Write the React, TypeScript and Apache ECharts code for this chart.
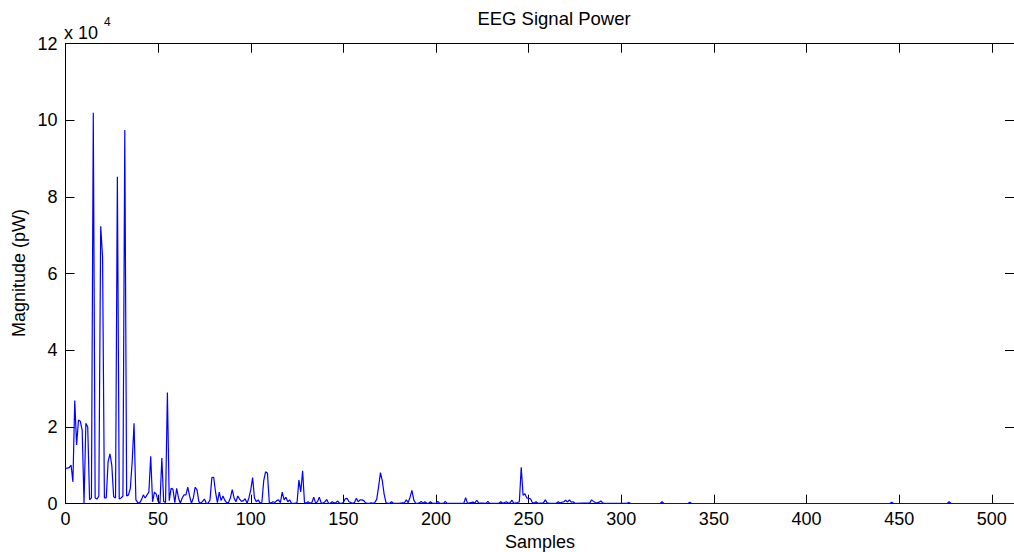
import React, { useEffect, useRef } from "react";
import * as echarts from "echarts";

// Power per sample, samples 0..130 (one value per sample)
const HEAD_POWER = [
  9200, 9300, 9400, 10100, 5700, 26900, 15300, 21800, 21500, 19200,
  200, 21000, 20000, 1000, 1500, 102000, 1500, 1200, 2000, 72400,
  64400, 1500, 1500, 11000, 13000, 10000, 1800, 1500, 85300, 1200,
  1500, 2000, 97500, 2000, 2300, 4000, 11000, 21000, 1000, 300,
  200, 1000, 2300, 1500, 2300, 3000, 12400, 500, 3000, 2500,
  600, 100, 11900, 600, 300, 29000, 800, 4000, 3800, 300,
  4000, 1500, 100, 1500, 2300, 2300, 4300, 2000, 100, 1500,
  4300, 3600, 500, 100, 600, 1200, 100, 100, 1000, 6800,
  6900, 3000, 300, 3000, 800, 2000, 900, 300, 300, 1500,
  3700, 1500, 500, 2000, 1200, 600, 800, 1300, 100, 1500,
  3600, 6800, 1500, 500, 1000, 200, 300, 6000, 8300, 8000,
  300, 200, 500, 300, 800, 1000, 300, 3000, 1000, 1700,
  500, 1000, 100, 100, 100, 300, 6200, 3100, 8600, 300,
  200,
];

// Remaining samples, listed where the trace changes
const TAIL_SAMPLES = [
  131, 132, 133, 134, 135, 136, 137, 138, 139, 140,
  141, 142, 143, 144, 145, 146, 147, 148, 149, 150,
  151, 152, 153, 154, 155, 156, 157, 158, 159, 160,
  161, 162, 163, 164, 165, 166, 167, 168, 169, 170,
  171, 172, 173, 174, 175, 176, 177, 180, 183, 184,
  185, 186, 187, 188, 189, 190, 191, 192, 193, 194,
  195, 196, 197, 198, 200, 201, 202, 204, 205, 206,
  215, 216, 217, 220, 221, 222, 223, 227, 228, 229,
  234, 235, 236, 238, 239, 240, 241, 242, 244, 245,
  246, 247, 248, 249, 250, 251, 252, 253, 254, 255,
  258, 259, 260, 261, 265, 266, 267, 269, 270, 271,
  272, 273, 274, 275, 283, 284, 285, 286, 287, 288,
  289, 290, 291, 303, 304, 305, 321, 322, 323, 336,
  337, 338, 445, 446, 447, 476, 477, 478, 512,
];
const TAIL_POWER = [
  500, 100, 300, 1700, 200, 500, 1700, 200, 100, 500,
  1100, 100, 100, 500, 200, 300, 700, 100, 100, 300,
  1300, 1400, 500, 300, 100, 300, 1400, 500, 1000, 1000,
  800, 200, 100, 100, 200, 100, 300, 1200, 4400, 8100,
  6000, 2500, 300, 100, 100, 500, 100, 100, 300, 1000,
  300, 1700, 3500, 1000, 100, 100, 200, 600, 100, 500,
  100, 100, 500, 100, 100, 600, 100, 100, 600, 100,
  100, 1600, 100, 400, 200, 900, 200, 100, 600, 100,
  100, 500, 100, 500, 100, 300, 900, 100, 300, 500,
  9500, 2200, 2600, 1500, 1400, 1300, 300, 200, 500, 100,
  200, 1000, 200, 100, 100, 500, 200, 500, 900, 400,
  1000, 400, 500, 100, 200, 1000, 600, 300, 200, 400,
  700, 200, 100, 100, 300, 100, 50, 500, 50, 50,
  400, 50, 50, 400, 50, 50, 500, 50, 50,
];

const X_MAX = 512;
const X_STEP = 50;
const Y_MAX = 120000;
const Y_STEP = 20000;
const Y_EXP = 10000;

const FONT = "'Liberation Sans', Arial, Helvetica, sans-serif";

export default function App() {
  const ref = useRef<HTMLDivElement>(null);

  useEffect(() => {
    if (!ref.current) return;
    const chart = echarts.init(ref.current, null, { renderer: "svg" });

    const data: number[][] = HEAD_POWER.map((v, i) => [i, v]);
    TAIL_SAMPLES.forEach((s, i) => data.push([s, TAIL_POWER[i]]));

    const axisLine = { show: true, onZero: false, lineStyle: { color: "#000", width: 1 } };
    const tick = { show: true, inside: true, length: 9, lineStyle: { color: "#000", width: 1 } };
    const xBase = { type: "value", min: 0, max: X_MAX, interval: X_STEP, axisLine, axisTick: tick, splitLine: { show: false } };
    const yBase = { type: "value", min: 0, max: Y_MAX, interval: Y_STEP, axisLine, axisTick: tick, splitLine: { show: false } };

    chart.setOption({
      animation: false,
      backgroundColor: "#fff",
      textStyle: { fontFamily: FONT },
      grid: { left: 65.5, top: 43.7, bottom: 48.3, right: -2.6, containLabel: false },
      xAxis: [
        {
          ...xBase,
          position: "bottom",
          axisLabel: {
            color: "#000",
            fontSize: 18,
            fontFamily: FONT,
            margin: 6,
            showMaxLabel: false,
            formatter: (v: number) => (v % X_STEP === 0 ? String(v) : ""),
          },
        },
        { ...xBase, position: "top", axisLabel: { show: false } },
      ],
      yAxis: [
        {
          ...yBase,
          position: "left",
          axisLabel: {
            color: "#000",
            fontSize: 18,
            fontFamily: FONT,
            margin: 8,
            formatter: (v: number) => String(v / Y_EXP),
          },
        },
        { ...yBase, position: "right", axisLabel: { show: false } },
      ],
      series: [
        {
          type: "line",
          data,
          showSymbol: false,
          symbol: "none",
          clip: true,
          lineStyle: { color: "#0000ff", width: 1.2 },
          z: 3,
        },
      ],
      graphic: [
        {
          type: "text",
          x: 554,
          y: 18,
          style: {
            text: "EEG Signal Power",
            fill: "#000",
            font: `18.5px ${FONT}`,
            textAlign: "center",
            textVerticalAlign: "middle",
          },
        },
        {
          type: "text",
          x: 540,
          y: 542,
          style: {
            text: "Samples",
            fill: "#000",
            font: `18px ${FONT}`,
            textAlign: "center",
            textVerticalAlign: "middle",
          },
        },
        {
          type: "text",
          x: 19,
          y: 273,
          rotation: Math.PI / 2,
          style: {
            text: "Magnitude (pW)",
            fill: "#000",
            font: `18px ${FONT}`,
            textAlign: "center",
            textVerticalAlign: "middle",
          },
        },
        {
          type: "text",
          x: 64,
          y: 32.5,
          style: {
            text: "x 10",
            fill: "#000",
            font: `18px ${FONT}`,
            textAlign: "left",
            textVerticalAlign: "middle",
          },
        },
        {
          type: "text",
          x: 104,
          y: 21.5,
          style: {
            text: "4",
            fill: "#000",
            font: `12px ${FONT}`,
            textAlign: "left",
            textVerticalAlign: "middle",
          },
        },
      ],
    });

    return () => chart.dispose();
  }, []);

  return (
    <div
      ref={ref}
      style={{ position: "fixed", left: 0, top: 0, width: 1014, height: 552 }}
    />
  );
}
